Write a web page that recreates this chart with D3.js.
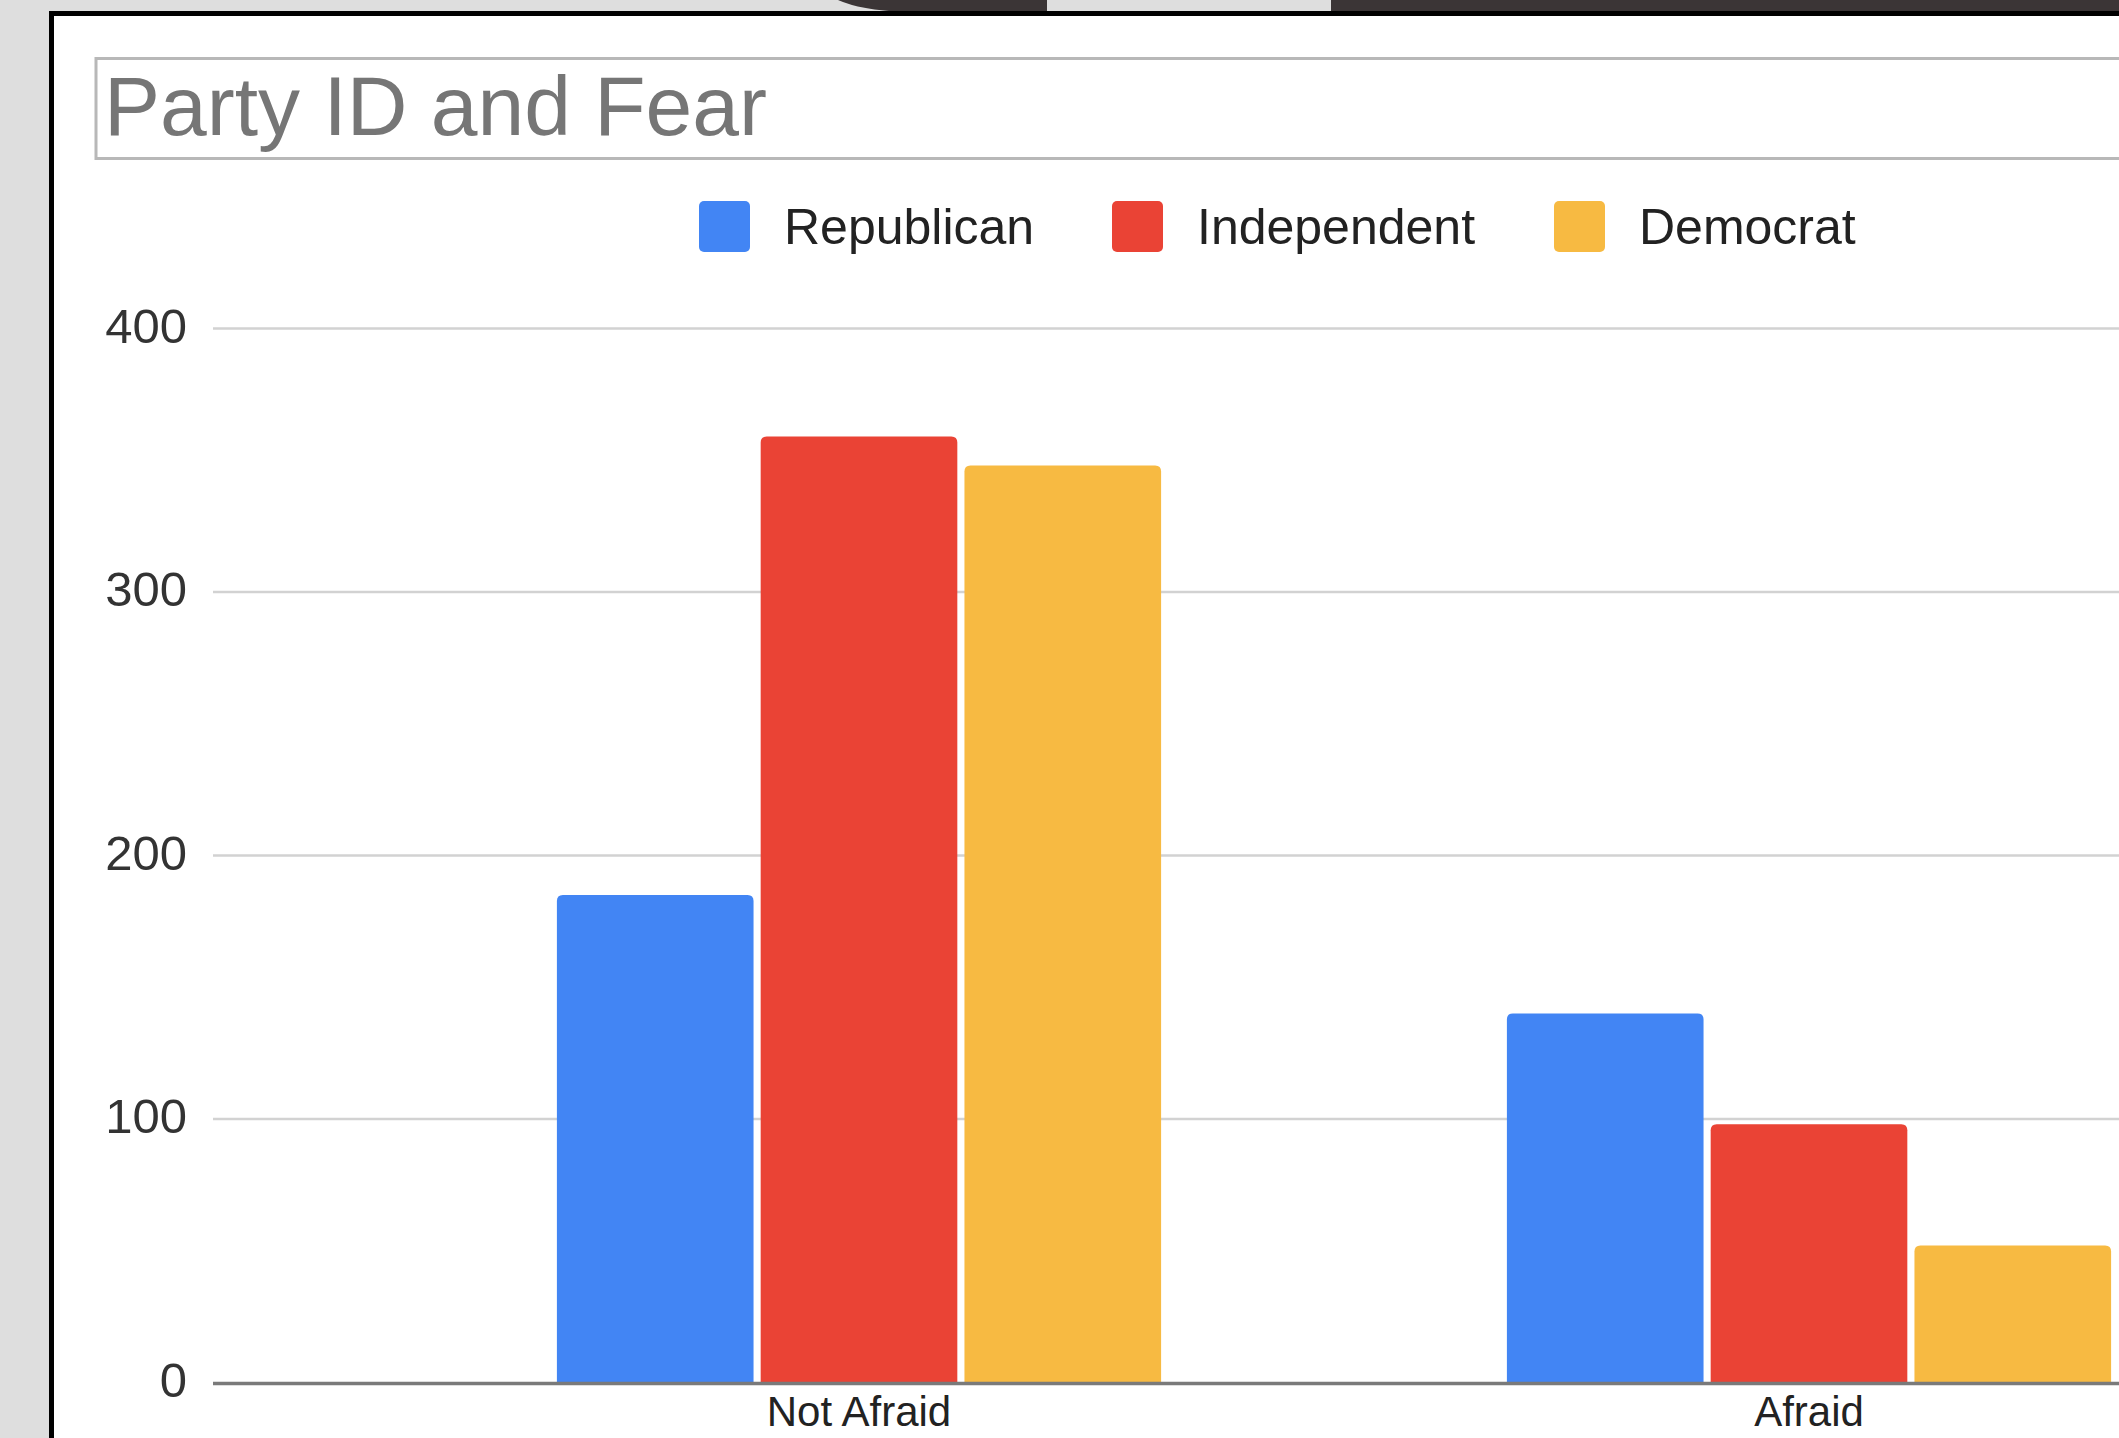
<!DOCTYPE html>
<html>
<head>
<meta charset="utf-8">
<script src="https://cdn.jsdelivr.net/npm/d3@7"></script>
<style>
  html, body { margin: 0; padding: 0; background: #dedede; overflow: hidden; }
  svg { display: block; }
  text { font-family: "Liberation Sans", Arial, Helvetica, sans-serif; }
</style>
</head>
<body>
<svg id="chart" width="2119" height="1438"></svg>
<script>
const title = "Party ID and Fear";
const categories = ["Not Afraid", "Afraid"];
const seriesNames = ["Republican", "Independent", "Democrat"];
const seriesColors = ["#4285f4", "#ea4335", "#f7ba42"];
const republican = [185, 140];
const independent = [359, 98];
const democrat = [348, 52];
const yTicks = [0, 100, 200, 300, 400];

const seriesValues = [republican, independent, democrat];

const W = 2119, H = 1438;
const svg = d3.select("#chart");

// page backdrop pieces (screenshot surroundings)
svg.append("rect").attr("x", 0).attr("y", 0).attr("width", W).attr("height", H).attr("fill", "#dedede");
svg.append("path")
  .attr("d", "M838,0 L1047,0 L1047,12 L905,12 Q860,10 838,0 Z")
  .attr("fill", "#3b3536");
svg.append("rect").attr("x", 1331).attr("y", 0).attr("width", W - 1331).attr("height", 12).attr("fill", "#3b3536");

// chart frame
svg.append("rect").attr("x", 49).attr("y", 11).attr("width", W).attr("height", H).attr("fill", "#000");
svg.append("rect").attr("x", 54).attr("y", 16).attr("width", W).attr("height", H).attr("fill", "#ffffff");

// title box
svg.append("rect").attr("x", 96).attr("y", 58.5).attr("width", W).attr("height", 100)
  .attr("fill", "#fff").attr("stroke", "#b8b8b8").attr("stroke-width", 3);
svg.append("text").attr("x", 104).attr("y", 135)
  .attr("font-size", 84).attr("fill", "#767676").text(title);

// legend
const legendItems = [
  {sx: 699, tx: 784},
  {sx: 1112, tx: 1197},
  {sx: 1554, tx: 1639}
];
const lg = svg.append("g");
seriesNames.forEach((name, i) => {
  lg.append("rect").attr("x", legendItems[i].sx).attr("y", 201).attr("width", 51).attr("height", 51)
    .attr("rx", 5).attr("fill", seriesColors[i]);
  lg.append("text").attr("x", legendItems[i].tx).attr("y", 244)
    .attr("font-size", 50).attr("fill", "#222").text(name);
});

// scales
const y = d3.scaleLinear().domain([0, 400]).range([1382.5, 328.5]);
const x0 = d3.scaleBand().domain(categories).range([384, 2284]).paddingInner(0.364).paddingOuter(0.182);
const x1 = d3.scaleBand().domain(seriesNames).range([0, x0.bandwidth()]).paddingInner(0.035);

const plotLeft = 213;

// gridlines
svg.append("g").selectAll("line").data(yTicks.filter(d => d !== 0)).join("line")
  .attr("x1", plotLeft).attr("x2", W)
  .attr("y1", d => y(d)).attr("y2", d => y(d))
  .attr("stroke", "#d2d2d2").attr("stroke-width", 2.5);

// y axis labels
svg.append("g").selectAll("text").data(yTicks).join("text")
  .attr("x", 187).attr("y", d => y(d) + 14)
  .attr("text-anchor", "end").attr("font-size", 49).attr("fill", "#333")
  .text(d => d);

// bars
const r = 6;
function barPath(x, yTop, w, yBase) {
  const rr = Math.min(r, (yBase - yTop) / 2, w / 2);
  return `M${x},${yBase} L${x},${yTop + rr} Q${x},${yTop} ${x + rr},${yTop} L${x + w - rr},${yTop} Q${x + w},${yTop} ${x + w},${yTop + rr} L${x + w},${yBase} Z`;
}
const barsData = [];
categories.forEach((c, ci) => {
  seriesNames.forEach((s, si) => {
    barsData.push({cat: c, series: s, value: seriesValues[si][ci], color: seriesColors[si]});
  });
});
svg.append("g").selectAll("path").data(barsData).join("path")
  .attr("d", d => barPath(x0(d.cat) + x1(d.series), y(d.value), x1.bandwidth(), y(0)))
  .attr("fill", d => d.color);

// baseline
svg.append("line").attr("x1", plotLeft).attr("x2", W).attr("y1", y(0) + 1).attr("y2", y(0) + 1)
  .attr("stroke", "#7a7a7a").attr("stroke-width", 3.5);

// category labels
svg.append("g").selectAll("text").data(categories).join("text")
  .attr("x", d => x0(d) + x0.bandwidth() / 2).attr("y", 1426)
  .attr("text-anchor", "middle").attr("font-size", 42).attr("fill", "#222")
  .text(d => d);
</script>
</body>
</html>
